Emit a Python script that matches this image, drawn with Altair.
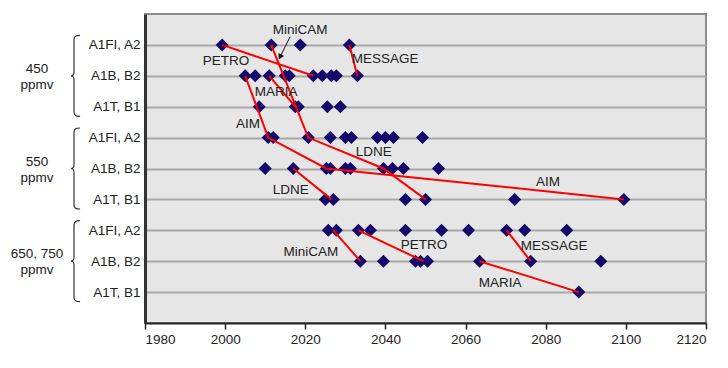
import altair as alt
import pandas as pd

# ---------------- data ----------------
row_labels = ["A1FI, A2", "A1B, B2", "A1T, B1"] * 3
group_labels = ["450\nppmv", "550\nppmv", "650, 750\nppmv"]
group_rows = [2, 5, 8]
x_ticks = [1980, 2000, 2020, 2040, 2060, 2080, 2100, 2120]

# diamond positions (year) for each row, rows numbered 1..9 top to bottom
years_450_a1fi = [1999.25, 2011.5, 2018.75, 2031.0]
years_450_a1b = [2005.0, 2007.5, 2011.0, 2015.0, 2016.0, 2022.0, 2024.25, 2026.5, 2027.75, 2033.0]
years_450_a1t = [2008.5, 2017.5, 2018.25, 2025.5, 2028.75]
years_550_a1fi = [2010.75, 2012.0, 2020.75, 2026.25, 2030.0, 2031.5, 2038.0, 2040.0, 2042.0, 2049.25]
years_550_a1b = [2010.0, 2017.0, 2025.25, 2026.25, 2030.0, 2031.25, 2039.5, 2041.75, 2044.5, 2053.25]
years_550_a1t = [2025.0, 2027.0, 2045.0, 2050.0, 2072.25, 2099.5]
years_650_a1fi = [2025.75, 2027.75, 2033.25, 2036.25, 2045.0, 2054.0, 2060.75, 2070.25, 2074.75, 2085.25]
years_650_a1b = [2033.75, 2039.5, 2047.5, 2048.75, 2050.5, 2063.5, 2076.25, 2093.75]
years_650_a1t = [2088.25]

row_years = [years_450_a1fi, years_450_a1b, years_450_a1t,
             years_550_a1fi, years_550_a1b, years_550_a1t,
             years_650_a1fi, years_650_a1b, years_650_a1t]

# model connection lines: (id, years, rows)
model_lines = [
    ("PETRO 450", [1999.25, 2022.0], [1, 2]),
    ("MiniCAM 450", [2011.5, 2020.75, 2039.5, 2050.0], [1, 4, 5, 6]),
    ("MESSAGE 450", [2031.0, 2033.0], [1, 2]),
    ("MARIA 450", [2011.0, 2017.5], [2, 3]),
    ("AIM", [2005.0, 2010.75, 2025.25, 2099.5], [2, 4, 5, 6]),
    ("LDNE 550", [2017.0, 2026.5], [5, 6]),
    ("MiniCAM 650", [2027.0, 2033.75], [7, 8]),
    ("PETRO 650", [2033.25, 2049.5], [7, 8]),
    ("MESSAGE 650", [2070.25, 2076.25], [7, 8]),
    ("MARIA 650", [2063.5, 2088.25], [8, 9]),
]

# model name labels
label_text = ["MiniCAM", "PETRO", "MESSAGE", "MARIA", "AIM", "LDNE", "LDNE", "AIM",
              "MiniCAM", "PETRO", "MESSAGE", "MARIA"]
label_year = [2018.7, 2000.2, 2039.9, 2012.7, 2005.7, 2037.1, 2016.4, 2080.6,
              2021.4, 2049.6, 2082.1, 2068.6]
label_row = [0.52, 1.52, 1.46, 2.52, 3.56, 4.47, 5.70, 5.44,
             7.70, 7.48, 7.51, 8.71]

# MiniCAM pointer arrow (start -> end)
arrow_year = [2016.2, 2013.7]
arrow_row = [0.74, 1.39]

# ---------------- tables ----------------
pts = pd.DataFrame([{"year": y, "row": i + 1}
                    for i, ys in enumerate(row_years) for y in ys])
lines = pd.DataFrame([{"model": m, "year": y, "row": r, "order": k}
                      for m, ys, rs in model_lines
                      for k, (y, r) in enumerate(zip(ys, rs))])
labels = pd.DataFrame({"text": label_text, "year": label_year, "row": label_row})
arrow = pd.DataFrame({"year": [arrow_year[0]], "row": [arrow_row[0]],
                      "year2": [arrow_year[1]], "row2": [arrow_row[1]]})
arrow_head = pd.DataFrame({"year": [arrow_year[1]], "row": [arrow_row[1]]})
groups = pd.DataFrame({"text": group_labels, "row": group_rows})

FONT = "Liberation Sans"
FS = 13.5
label_js = "[" + ",".join("'" + s + "'" for s in row_labels) + "]"

xs = alt.Scale(domain=[1980, 2120], nice=False, zero=False)
ys = alt.Scale(domain=[0, 10], reverse=True, nice=False, zero=False)

X = alt.X("year:Q", scale=xs,
          axis=alt.Axis(values=x_ticks, format="d", title=None, grid=False,
                        domainColor="#222222", domainWidth=2, tickColor="#222222",
                        tickWidth=1.5, tickSize=6, labelFont=FONT, labelFontSize=FS,
                        labelColor="#222222", labelPadding=3, labelOverlap=False))
Y = alt.Y("row:Q", scale=ys,
          axis=alt.Axis(values=list(range(1, 10)), title=None, grid=True,
                        gridColor="#a8a8a8", gridWidth=2, domainColor="#333333",
                        domainWidth=3, tickSize=0, labelPadding=5,
                        labelOverlap=False, labelBound=False, labelFlush=False,
                        labelExpr=label_js + "[datum.value-1]",
                        labelFont=FONT, labelFontSize=FS, labelColor="#222222"))

diamonds = alt.Chart(pts).mark_point(shape="diamond", filled=True, size=170,
                                     color="#14086b", opacity=1).encode(x=X, y=Y)

red = alt.Chart(lines).mark_line(color="#ff0000", strokeWidth=2).encode(
    x=X, y=Y, detail="model:N", order="order:Q")

txt = alt.Chart(labels).mark_text(font=FONT, fontSize=FS, color="#222222").encode(
    x=X, y=Y, text="text:N")

arr = alt.Chart(arrow).mark_rule(color="#111111", strokeWidth=1).encode(
    x=X, y=Y, x2="year2:Q", y2="row2:Q")
head = alt.Chart(arrow_head).mark_point(shape="triangle-up", filled=True, size=40,
                                        angle=207, color="#111111", opacity=1).encode(
    x=X, y=Y)

brace_path = ("M0.15,-1 C0.03,-1 0,-0.97 0,-0.88 L0,-0.1 C0,-0.03 -0.03,0 -0.075,0 "
              "C-0.03,0 0,0.03 0,0.1 L0,0.88 C0,0.97 0.03,1 0.15,1")
braces = alt.Chart(groups).mark_point(shape=brace_path, filled=False, size=6561,
                                      stroke="#333333", strokeWidth=1.2, opacity=1).encode(
    x=alt.value(-71), y=Y)
grp = alt.Chart(groups).mark_text(font=FONT, fontSize=FS, color="#222222",
                                  lineBreak="\n", lineHeight=16, dy=-7).encode(
    x=alt.value(-108), y=Y, text="text:N")

chart = alt.layer(diamonds, red, txt, arr, head, braces, grp).properties(
    width=561, height=309,
    padding={"left": 137, "top": 6, "right": 14, "bottom": 37},
    autosize="none",
).configure_view(
    fill="#e6e6e6", stroke="#8c8c8c", strokeWidth=2
).configure_axis(labelOverlap=False)

chart.save("out.html", embed_options={"renderer": "svg", "actions": False})
